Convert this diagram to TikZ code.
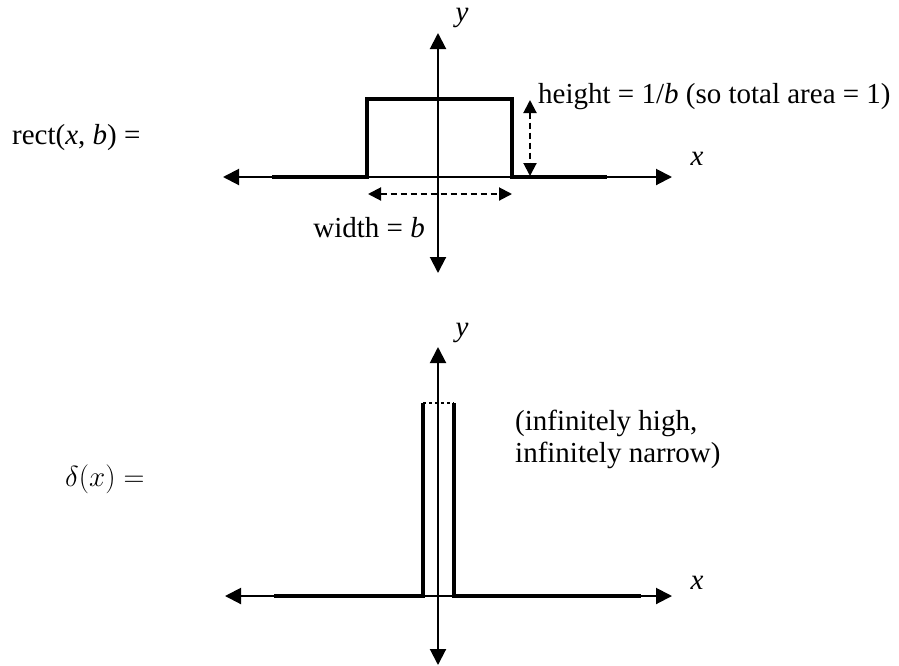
\RequirePackage{fix-cm}
\documentclass[tikz,border=0pt]{standalone}
\usepackage{fontspec}
\setmainfont{Liberation Serif}
\usetikzlibrary{arrows.meta}
\begin{document}
\begin{tikzpicture}[x=1pt,y=-1pt,
  axis/.style={line width=2pt,{Triangle[length=16pt,width=16pt]}-{Triangle[length=16pt,width=16pt]}},
  thickline/.style={line width=4pt,line join=miter},
  dimarrow/.style={line width=2pt,dash pattern=on 6pt off 4pt,{Triangle[length=13pt,width=13pt]}-{Triangle[length=13pt,width=13pt]}},
  lbl/.style={inner sep=0pt,font=\fontsize{29}{32}\selectfont},
]
\useasboundingbox (0,0) rectangle (899,665);
% ---------- top diagram ----------
\coordinate (xl1) at (223,177);
\coordinate (xr1) at (672,177);
\coordinate (yt1) at (438,33);
\coordinate (yb1) at (438,273);
\draw[axis] (xl1) -- (xr1);
\draw[axis] (yb1) -- (yt1);
\coordinate (r0) at (272,177);
\coordinate (r1) at (367,177);
\coordinate (r2) at (367,99);
\coordinate (r3) at (512,99);
\coordinate (r4) at (512,177);
\coordinate (r5) at (607,177);
\draw[thickline] (r0) -- (r1) -- (r2) -- (r3) -- (r4) -- (r5);
\coordinate (ht) at (530,100);
\coordinate (hb) at (530,176);
\draw[dimarrow] (ht) -- (hb);
\coordinate (wl) at (368,194);
\coordinate (wr) at (512,194);
\draw[dimarrow] (wl) -- (wr);
\node[lbl,anchor=base west] (rectlbl) at (12,144) {rect(\textit{x}, \textit{b}) =};
\node[lbl,anchor=base west] (hlbl) at (538,103) {height = 1/\textit{b} (so total area = 1)};
\node[lbl,anchor=base east] (wlbl) at (425,237) {width = \textit{b}};
\node[lbl] (ylbl1) at (462,18) {\textit{y}};
\node[lbl] (xlbl1) at (697,159) {\textit{x}};
% ---------- bottom diagram ----------
\coordinate (xl2) at (225,596);
\coordinate (xr2) at (672,596);
\coordinate (yt2) at (438,347);
\coordinate (yb2) at (438,665);
\draw[axis] (xl2) -- (xr2);
\draw[axis] (yb2) -- (yt2);
\coordinate (s0) at (274,596);
\coordinate (s1) at (423,596);
\coordinate (s2) at (423,403);
\coordinate (s3) at (454,403);
\coordinate (s4) at (454,596);
\coordinate (s5) at (641,596);
\draw[thickline] (s0) -- (s1) -- (s2);
\draw[thickline] (s3) -- (s4) -- (s5);
\draw[line width=2pt,dash pattern=on 3pt off 3pt] (s2) -- (s3);
\node[lbl,anchor=base west] (dlbl) at (65,486) {$\delta(x) =$};
\node[lbl,anchor=base west] (inf1) at (515,430) {(infinitely high,};
\node[lbl,anchor=base west] (inf2) at (515,462) {infinitely narrow)};
\node[lbl] (ylbl2) at (462,333) {\textit{y}};
\node[lbl] (xlbl2) at (697,583) {\textit{x}};
\end{tikzpicture}
\end{document}
